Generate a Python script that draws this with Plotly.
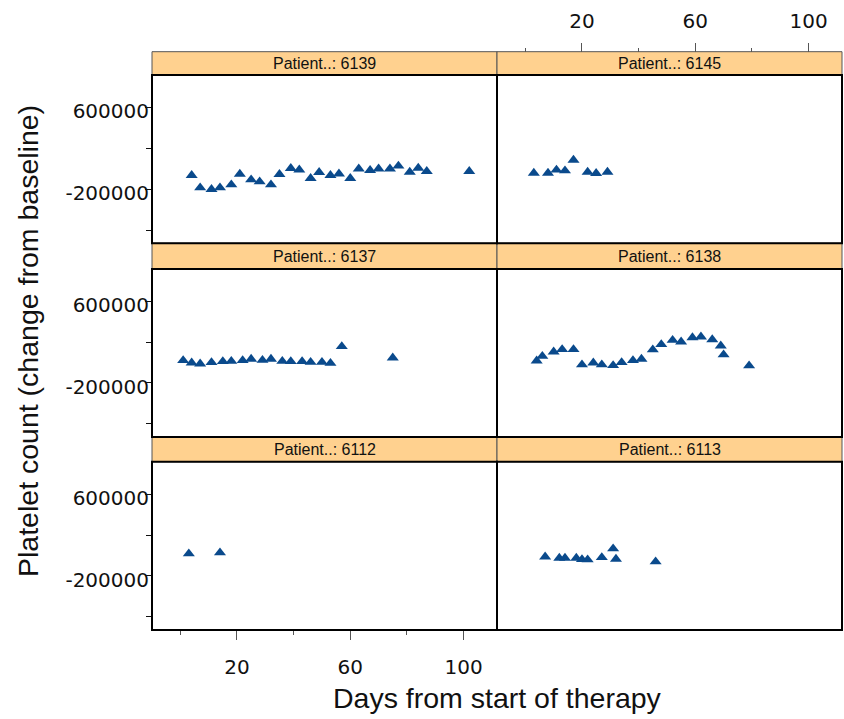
import plotly.graph_objects as go

W, H = 844, 719

# ---------------- data ----------------
patients = ["6139", "6145", "6137", "6138", "6112", "6113"]

days_6139 = [4, 7, 11, 14, 18, 21, 25, 28, 32, 35, 39, 42, 46, 49, 53, 56, 60, 63, 67, 70, 74, 77, 81, 84, 87, 102]
plt_6139 = [-64000, -186000, -201000, -186000, -156000, -52000, -107000, -127000, -156000, -55000, 4000, -10000,
            -94000, -35000, -64000, -49000, -94000, 0, -15000, 0, 0, 27000, -32000, 7000, -25000, -25000]

days_6145 = [3, 8, 11, 14, 17, 22, 25, 29]
plt_6145 = [-42000, -42000, -12000, -19000, 85000, -32000, -45000, -32000]

days_6137 = [1, 4, 7, 11, 15, 18, 22, 25, 29, 32, 36, 39, 43, 46, 50, 53, 57, 75]
plt_6137 = [21000, -2000, -12000, 1000, 11000, 14000, 21000, 34000, 24000, 34000, 14000, 11000, 11000, 4000,
            4000, -6000, 158000, 47000]

days_6138 = [4, 6, 10, 13, 17, 20, 24, 27, 31, 34, 38, 41, 45, 48, 52, 55, 59, 62, 66, 69, 70, 79]
plt_6138 = [18000, 63000, 106000, 129000, 129000, -21000, -2000, -21000, -28000, 1000, 21000, 34000, 126000,
            178000, 220000, 204000, 246000, 253000, 226000, 165000, 77000, -31000]

days_6112 = [3, 14]
plt_6112 = [17000, 27000]

days_6113 = [7, 12, 14, 18, 20, 22, 27, 31, 32, 46]
plt_6113 = [-13000, -25000, -25000, -25000, -39000, -42000, -19000, 66000, -35000, -61000]

x_tick_vals = [20, 60, 100]
x_tick_text = ["20", "60", "100"]
x_minor_vals = [0, 40, 80]
y_tick_vals = [600000, -200000]
y_tick_text = ["600000", "-200000"]
y_minor_vals = [200000, -600000]

series = [
    (days_6139, plt_6139),
    (days_6145, plt_6145),
    (days_6137, plt_6137),
    (days_6138, plt_6138),
    (days_6112, plt_6112),
    (days_6113, plt_6113),
]

# ---------------- layout geometry (pixels) ----------------
X_RANGE = [-10, 111.8]
Y_RANGE = [-730000, 918000]
col_px = [(152, 497), (497, 842)]
strip_px = [(51.7, 75), (243.3, 269), (437, 461.7)]
panel_px = [(75, 243.3), (269, 437), (461.7, 630)]

def fx(p):
    return p / W

def fy(p):
    return 1 - p / H

MARKER = "#0A4A8C"
STRIP = "#FFD18F"
TICK_FONT = dict(family="DejaVu Sans", size=20, color="#111")

fig = go.Figure()
layout = dict(
    width=W, height=H,
    margin=dict(l=0, r=0, t=0, b=0),
    paper_bgcolor="white", plot_bgcolor="white",
    showlegend=False,
    shapes=[], annotations=[],
)

for i, (pid, (xs, ys)) in enumerate(zip(patients, series)):
    r, c = divmod(i, 2)
    idx = i + 1
    sfx = "" if idx == 1 else str(idx)
    fig.add_trace(go.Scatter(
        x=xs, y=ys, mode="markers",
        marker=dict(symbol="triangle-up", size=10.5, color=MARKER, line=dict(width=0)),
        xaxis="x" + sfx, yaxis="y" + sfx, hoverinfo="x+y",
    ))
    xl, xr = col_px[c]
    pt, pb = panel_px[r]
    st, sb = strip_px[r]
    xa = dict(domain=[fx(xl), fx(xr)], range=X_RANGE, showgrid=False, zeroline=False,
              showline=False, anchor="y" + sfx, ticks="", showticklabels=False, automargin=False)
    ya = dict(domain=[fy(pb), fy(pt)], range=Y_RANGE, showgrid=False, zeroline=False,
              showline=False, anchor="x" + sfx, ticks="", showticklabels=False, automargin=False)
    xtick_common = dict(
        tickmode="array", tickvals=x_tick_vals, ticktext=x_tick_text,
        ticks="outside", ticklen=9, tickwidth=1, tickcolor="#555",
        showticklabels=True, tickfont=TICK_FONT,
        minor=dict(tickmode="array", tickvals=x_minor_vals, ticks="outside", ticklen=4,
                   tickwidth=1, tickcolor="#555"),
    )
    if r == 2 and c == 0:
        xa.update(xtick_common)
        xa.update(side="bottom", ticklabelstandoff=10)
    if r == 0 and c == 1:
        xa.update(xtick_common)
        xa.update(side="top", anchor="free", position=fy(st), ticklabelstandoff=7)
    if c == 0:
        ya.update(
            tickmode="array", tickvals=y_tick_vals, ticktext=y_tick_text,
            ticks="outside", ticklen=6, tickwidth=1, tickcolor="#111",
            showticklabels=True, tickfont=TICK_FONT, ticklabelstandoff=-8,
            ticklabelshift=4,
            minor=dict(tickmode="array", tickvals=y_minor_vals, ticks="outside", ticklen=5,
                       tickwidth=1, tickcolor="#111"),
        )
    layout["xaxis" + sfx] = xa
    layout["yaxis" + sfx] = ya

    # strip
    layout["shapes"].append(dict(type="rect", xref="paper", yref="paper",
                                 x0=fx(xl), x1=fx(xr), y0=fy(sb), y1=fy(st),
                                 fillcolor=STRIP, line=dict(color="#555", width=1), layer="below"))
    layout["annotations"].append(dict(xref="paper", yref="paper", x=fx((xl + xr) / 2), y=fy((st + sb) / 2),
                                      text="Patient..: " + pid, showarrow=False,
                                      font=dict(family="Liberation Sans, Arial", size=16, color="#111"),
                                      xanchor="center", yanchor="middle"))
    # panel frame
    layout["shapes"].append(dict(type="rect", xref="paper", yref="paper",
                                 x0=fx(xl), x1=fx(xr), y0=fy(pb), y1=fy(pt),
                                 fillcolor="rgba(0,0,0,0)", line=dict(color="black", width=2), layer="above"))

layout["annotations"].append(dict(xref="paper", yref="paper", x=fx(497), y=fy(698),
                                  text="Days from start of therapy", showarrow=False,
                                  font=dict(family="Liberation Sans, Arial", size=28.5, color="#111"),
                                  xanchor="center", yanchor="middle"))
layout["annotations"].append(dict(xref="paper", yref="paper", x=fx(28), y=fy(341),
                                  text="Platelet count (change from baseline)", showarrow=False,
                                  textangle=-90,
                                  font=dict(family="Liberation Sans, Arial", size=28.5, color="#111"),
                                  xanchor="center", yanchor="middle"))

fig.update_layout(**layout)
fig.write_html("out.html", config={"displayModeBar": False},
               post_script="document.body.style.margin='0px';document.body.style.overflow='hidden';")
